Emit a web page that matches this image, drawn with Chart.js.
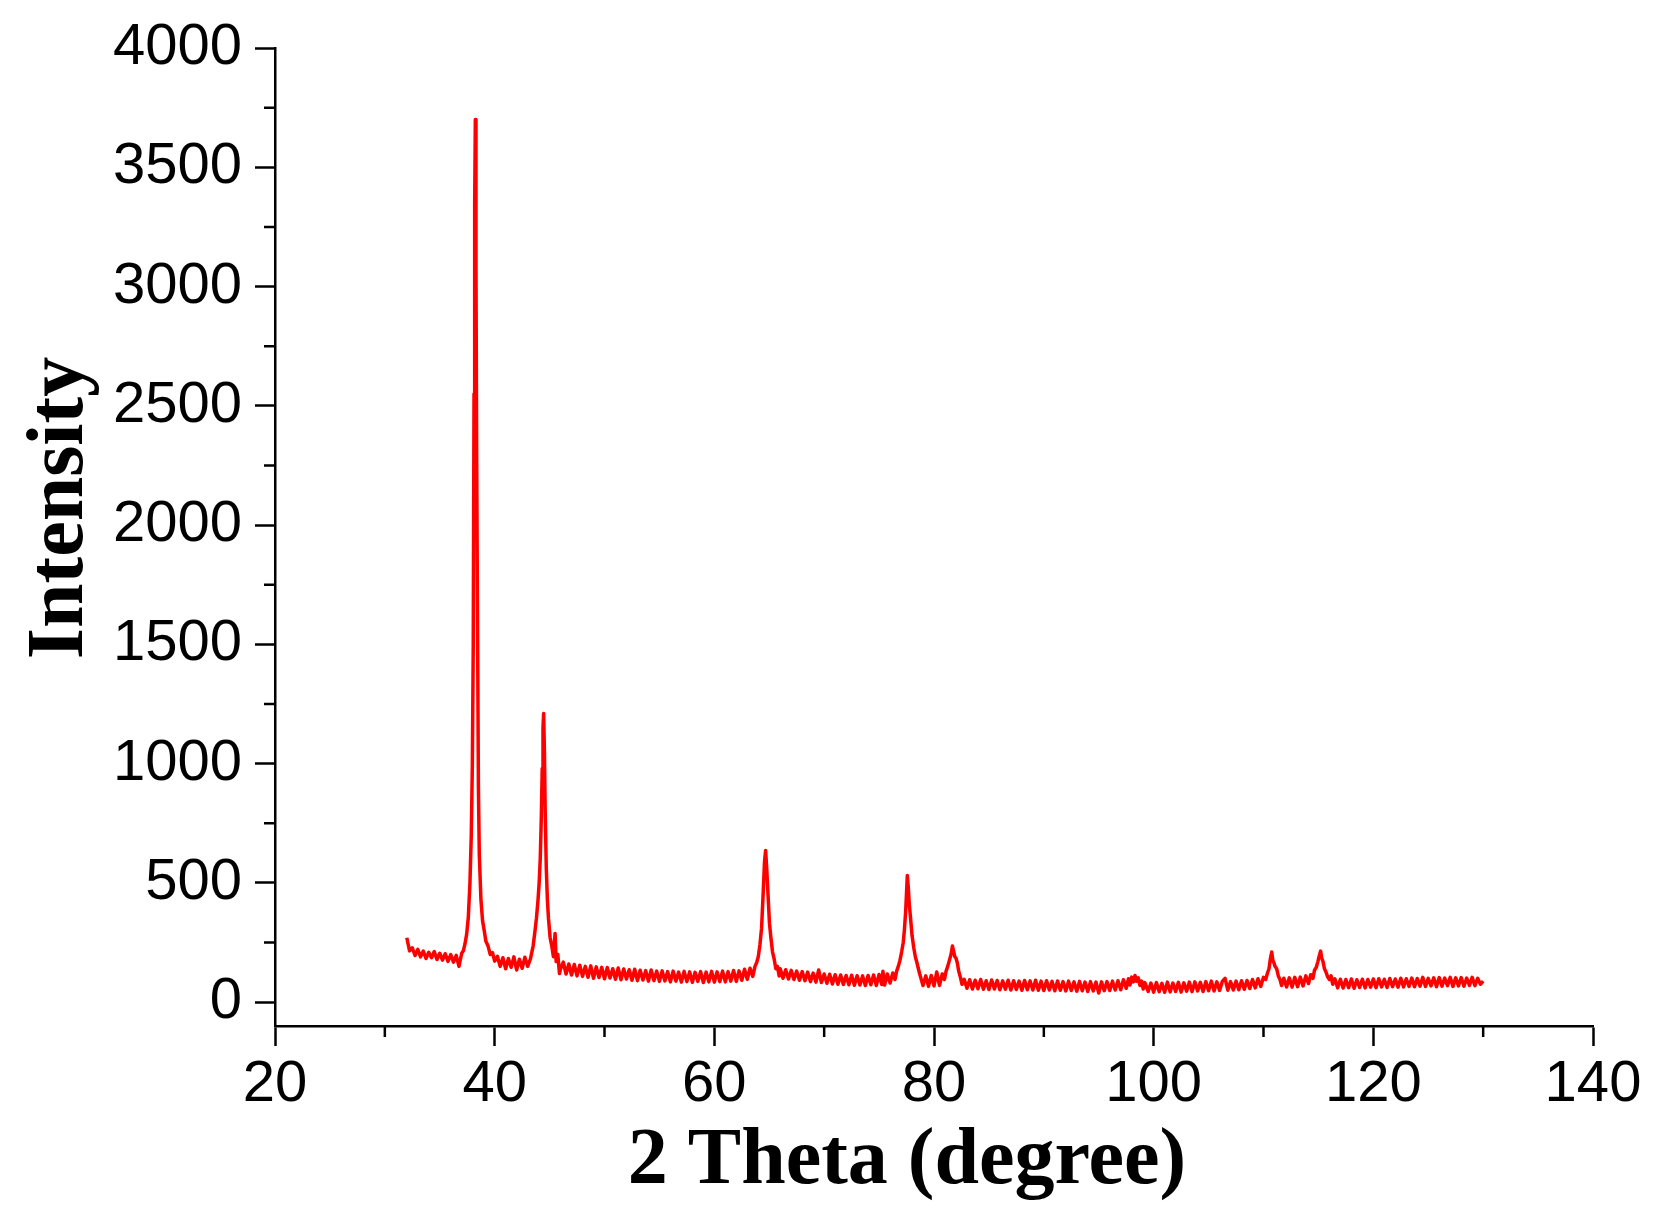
<!DOCTYPE html>
<html>
<head>
<meta charset="utf-8">
<title>XRD pattern</title>
<script src="https://cdn.jsdelivr.net/npm/chart.js@4.4.1/dist/chart.umd.min.js"></script>
<style>
  html, body { margin: 0; padding: 0; background: #fff; }
  canvas { display: block; }
</style>
</head>
<body>
<canvas id="xrd" width="1653" height="1224"></canvas>
<script>
// 2 theta positions (degree)
const twoTheta = [
  // 32 - 37 baseline
  32, 32.25, 32.5, 32.75, 33, 33.25, 33.5, 33.75, 34, 34.25, 34.5, 34.75, 35, 35.25, 35.5, 35.75, 36, 36.25, 36.5, 36.75, 37,
  // main peak ~38.2
  37.15, 37.3, 37.45, 37.6, 37.75, 37.87, 37.97, 38.05, 38.12, 38.18, 38.24, 38.3, 38.36, 38.45, 38.52, 38.6, 38.75, 38.9, 39.05, 39.2, 39.4, 39.6, 39.8, 40,
  // 40 - 43.5
  40.25, 40.5, 40.75, 41, 41.25, 41.5, 41.75, 42, 42.25, 42.5, 42.75, 43, 43.25, 43.5,
  // peak ~44.5
  43.65, 43.8, 43.95, 44.05, 44.15, 44.25, 44.33, 44.4, 44.46, 44.53, 44.6, 44.7, 44.8, 44.9, 45.05, 45.2, 45.35, 45.5, 45.6, 45.75, 45.9,
  // 46 - 63.25
  46, 46.25, 46.5, 46.75, 47, 47.25, 47.5, 47.75, 48, 48.25,
  48.5, 48.75, 49, 49.25, 49.5, 49.75, 50, 50.25, 50.5, 50.75,
  51, 51.25, 51.5, 51.75, 52, 52.25, 52.5, 52.75, 53, 53.25,
  53.5, 53.75, 54, 54.25, 54.5, 54.75, 55, 55.25, 55.5, 55.75,
  56, 56.25, 56.5, 56.75, 57, 57.25, 57.5, 57.75, 58, 58.25,
  58.5, 58.75, 59, 59.25, 59.5, 59.75, 60, 60.25, 60.5, 60.75,
  61, 61.25, 61.5, 61.75, 62, 62.25, 62.5, 62.75, 63, 63.25,
  // peak ~64.7
  63.5, 63.7, 63.85, 64, 64.15, 64.3, 64.45, 64.57, 64.67, 64.77, 64.9, 65.02, 65.15, 65.3, 65.45, 65.6, 65.75, 65.9,
  // 66 - 76.25
  66, 66.25, 66.5, 66.75, 67, 67.25, 67.5, 67.75, 68, 68.25,
  68.5, 68.75, 69, 69.25, 69.5, 69.75, 70, 70.25, 70.5, 70.75,
  71, 71.25, 71.5, 71.75, 72, 72.25, 72.5, 72.75, 73, 73.25,
  73.5, 73.75, 74, 74.25, 74.5, 74.75, 75, 75.25, 75.35, 75.5,
  75.75, 76, 76.25,
  // peak ~77.6
  76.45, 76.6, 76.75, 76.9, 77.05, 77.2, 77.3, 77.42, 77.5, 77.57, 77.66, 77.75, 77.85, 78, 78.15, 78.3, 78.45, 78.55, 78.7,
  // 79 - 80.75
  79, 79.25, 79.5, 79.75, 80, 80.25, 80.5, 80.75,
  // peak ~81.7
  80.95, 81.1, 81.25, 81.4, 81.55, 81.68, 81.78, 81.9, 82, 82.12, 82.25, 82.4, 82.55,
  // 82.75 - 97.5
  82.75, 83, 83.25, 83.5, 83.75, 84, 84.25, 84.5, 84.75, 85,
  85.25, 85.5, 85.75, 86, 86.25, 86.5, 86.75, 87, 87.25, 87.5,
  87.75, 88, 88.25, 88.5, 88.75, 89, 89.25, 89.5, 89.75, 90,
  90.25, 90.5, 90.75, 91, 91.25, 91.5, 91.75, 92, 92.25, 92.5,
  92.75, 93, 93.25, 93.5, 93.75, 94, 94.25, 94.5, 94.75, 95,
  95.25, 95.5, 95.75, 96, 96.25, 96.5, 96.75, 97, 97.25, 97.5,
  // small bump ~98.3
  97.7, 97.85, 98, 98.15, 98.3, 98.45, 98.6, 98.75, 98.9, 99.05, 99.2,
  // 99.5 - 110
  99.5, 99.75, 100, 100.25, 100.5, 100.75, 101, 101.25, 101.5, 101.75,
  102, 102.25, 102.5, 102.75, 103, 103.25, 103.5, 103.75, 104, 104.25,
  104.5, 104.75, 105, 105.25, 105.5, 105.75, 106, 106.25, 106.5, 106.75,
  107, 107.25, 107.5, 107.75, 108, 108.25, 108.5, 108.75, 109, 109.25,
  109.5, 109.75, 110,
  // peak ~110.8
  110.2, 110.35, 110.5, 110.62, 110.75, 110.85, 110.95, 111.05, 111.2, 111.35, 111.5, 111.65,
  // 111.85 - 114.3
  111.85, 112.1, 112.35, 112.6, 112.85, 113.1, 113.35, 113.6, 113.85, 114.1, 114.3,
  // peak ~115.2
  114.5, 114.65, 114.8, 114.95, 115.08, 115.2, 115.3, 115.42, 115.55, 115.7, 115.85, 116, 116.15, 116.3, 116.5,
  // 116.75 - 130
  116.75, 117, 117.25, 117.5, 117.75, 118, 118.25, 118.5, 118.75, 119,
  119.25, 119.5, 119.75, 120, 120.25, 120.5, 120.75, 121, 121.25, 121.5,
  121.75, 122, 122.25, 122.5, 122.75, 123, 123.25, 123.5, 123.75, 124,
  124.25, 124.5, 124.75, 125, 125.25, 125.5, 125.75, 126, 126.25, 126.5,
  126.75, 127, 127.25, 127.5, 127.75, 128, 128.25, 128.5, 128.75, 129,
  129.25, 129.5, 129.75, 130
];

// intensity at each position (same order as twoTheta)
const intensity = [
  270, 215, 228, 196, 221, 190, 214, 183, 209, 186, 212, 179, 205, 176, 203, 171, 199, 168, 196, 150, 205,
  215, 245, 285, 355, 500, 700, 1000, 1500, 2550, 3340, 3700, 3080, 2300, 1500, 900, 620, 430, 340, 300, 255, 235, 200, 208, 172,
  192, 150, 186, 140, 183, 146, 190, 135, 180, 142, 188, 150, 180, 235,
  290, 350, 430, 500, 600, 780, 980, 1150, 1210, 1050, 800, 560, 430, 350, 270, 235, 190, 288, 170, 200, 120,
  140, 168, 118, 160, 114, 158, 110, 155, 108, 150,
  104, 152, 100, 148, 103, 146, 98, 145, 101, 140,
  96, 143, 94, 139, 97, 136, 92, 138, 90, 134,
  93, 132, 88, 135, 90, 130, 87, 131, 89, 128,
  85, 130, 88, 126, 84, 129, 86, 127, 83, 125,
  87, 128, 82, 126, 85, 129, 84, 127, 86, 130,
  85, 128, 88, 133, 87, 131, 92, 138, 96, 142,
  108, 150, 165, 190, 240, 310, 460, 590, 636, 560, 440, 330, 270, 210, 180, 140, 150, 110,
  140, 100, 136, 97, 133, 95, 130, 92, 128, 90,
  126, 86, 122, 84, 135, 82, 118, 79, 117, 76,
  115, 75, 114, 74, 112, 73, 113, 71, 111, 72,
  110, 70, 112, 73, 114, 70, 116, 74, 130, 72,
  118, 80, 122,
  95, 130, 150, 175, 210, 250, 300, 380, 460, 531, 480, 410, 360, 280, 230, 190, 165, 145, 118,
  70, 110, 66, 112, 68, 126, 70, 118,
  95, 130, 150, 175, 200, 235, 215, 190, 185, 165, 130, 105, 75,
  96, 58, 94, 55, 92, 56, 95, 54, 90, 53,
  93, 55, 91, 52, 89, 54, 92, 51, 90, 53,
  88, 50, 91, 52, 89, 51, 92, 50, 88, 49,
  90, 51, 87, 48, 89, 50, 86, 47, 88, 49,
  85, 46, 87, 48, 84, 45, 86, 47, 84, 38,
  85, 48, 86, 49, 88, 51, 90, 52, 94, 58,
  98, 72, 105, 85, 112, 88, 102, 70, 88, 55, 82,
  45, 80, 42, 82, 44, 79, 41, 84, 43, 80,
  45, 83, 42, 81, 46, 84, 44, 85, 47, 83,
  45, 86, 48, 88, 47, 85, 49, 87, 100, 50,
  86, 51, 88, 52, 90, 54, 91, 57, 95, 60,
  98, 66, 104,
  95, 120, 140, 180, 210, 175, 165, 150, 140, 110, 95, 70,
  100, 64, 102, 63, 104, 65, 105, 68, 110, 78, 115,
  100, 135, 145, 170, 195, 214, 185, 170, 140, 125, 105, 95, 110, 75, 98,
  60, 96, 59, 95, 61, 97, 58, 94, 62, 96,
  60, 95, 63, 97, 61, 98, 64, 96, 62, 99,
  65, 97, 63, 100, 64, 98, 66, 101, 65, 99,
  67, 104, 66, 100, 68, 102, 65, 103, 67, 101,
  69, 104, 66, 102, 68, 103, 67, 101, 70, 104,
  69, 100, 75, 88
];

const xTicks = [20, 40, 60, 80, 100, 120, 140];
const xMinorTicks = [30, 50, 70, 90, 110, 130];
const yTicks = [0, 500, 1000, 1500, 2000, 2500, 3000, 3500, 4000];
const yMinorTicks = [250, 750, 1250, 1750, 2250, 2750, 3250, 3750];
const xTitle = '2 Theta (degree)';
const yTitle = 'Intensity';

if (twoTheta.length !== intensity.length) {
  console.warn('length mismatch', twoTheta.length, intensity.length);
}
const points = twoTheta.map((t, i) => ({ x: t, y: intensity[i] }));

const tickFont = { family: '"Liberation Sans", Arial, sans-serif', size: 58 };
const titleFont = 'bold 80px "Liberation Serif", "Times New Roman", serif';

// short minor ticks, same look as the major ones
const minorTicks = {
  id: 'minorTicks',
  afterDraw(chart) {
    const { ctx, scales: { x, y } } = chart;
    ctx.save();
    ctx.strokeStyle = '#000';
    ctx.lineWidth = 2.5;
    ctx.beginPath();
    xMinorTicks.forEach(v => {
      const px = x.getPixelForValue(v);
      ctx.moveTo(px, x.top);
      ctx.lineTo(px, x.top + 11);
    });
    yMinorTicks.forEach(v => {
      const py = y.getPixelForValue(v);
      ctx.moveTo(y.right, py);
      ctx.lineTo(y.right - 11, py);
    });
    ctx.stroke();
    ctx.restore();
  }
};

// axis titles sit a bit off the axis centres in the original
const axisTitles = {
  id: 'axisTitles',
  afterDraw(chart) {
    const { ctx, chartArea } = chart;
    ctx.save();
    ctx.fillStyle = '#000';
    ctx.font = titleFont;
    ctx.textAlign = 'center';
    ctx.textBaseline = 'alphabetic';
    ctx.fillText(xTitle, (chartArea.left + chartArea.right) / 2 - 27, chart.height - 41);
    ctx.translate(82, (chartArea.top + chartArea.bottom) / 2 - 29);
    ctx.rotate(-Math.PI / 2);
    ctx.fillText(yTitle, 0, 0);
    ctx.restore();
  }
};

new Chart(document.getElementById('xrd'), {
  type: 'line',
  data: {
    datasets: [{
      label: 'XRD',
      data: points,
      borderColor: '#ff0000',
      borderWidth: 3.5,
      borderJoinStyle: 'round',
      pointRadius: 0,
      tension: 0,
      fill: false
    }]
  },
  options: {
    responsive: false,
    animation: false,
    devicePixelRatio: 1,
    layout: { autoPadding: false, padding: { top: 48, right: 60, bottom: 0, left: 0 } },
    plugins: { legend: { display: false }, tooltip: { enabled: false } },
    scales: {
      x: {
        type: 'linear',
        min: 20,
        max: 140,
        afterBuildTicks: axis => { axis.ticks = xTicks.map(v => ({ value: v })); },
        afterFit: axis => { axis.height = 198; },
        border: { display: true, color: '#000', width: 2.5 },
        grid: { drawOnChartArea: false, drawTicks: true, tickLength: 20, tickWidth: 2.5, tickColor: '#000' },
        ticks: { font: tickFont, color: '#000', padding: 4, maxRotation: 0, autoSkip: false, callback: v => String(v) }
      },
      y: {
        type: 'linear',
        min: -100,
        max: 4000,
        afterBuildTicks: axis => { axis.ticks = yTicks.map(v => ({ value: v })); },
        afterFit: axis => { axis.width = 275; },
        border: { display: true, color: '#000', width: 2.5 },
        grid: { drawOnChartArea: false, drawTicks: true, tickLength: 20, tickWidth: 2.5, tickColor: '#000' },
        ticks: { font: tickFont, color: '#000', padding: 13, autoSkip: false, callback: v => String(v) }
      }
    }
  },
  plugins: [minorTicks, axisTitles]
});
</script>
</body>
</html>
